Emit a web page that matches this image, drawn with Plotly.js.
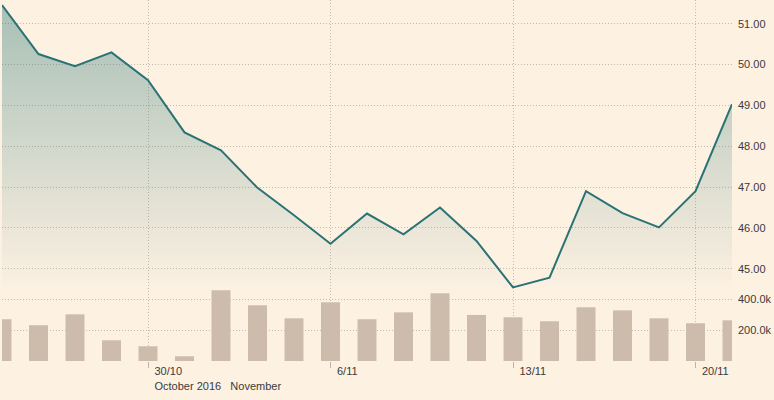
<!DOCTYPE html>
<html>
<head>
<meta charset="utf-8">
<script src="https://cdn.plot.ly/plotly-3.0.1.min.js"></script>
<style>html,body{margin:0;padding:0;background:#fdf1e2;}#chart{width:774px;height:400px;}</style>
</head>
<body>
<div id="chart"></div>
<script>
const dates = ['2016-10-24','2016-10-25','2016-10-26','2016-10-27','2016-10-30','2016-10-31','2016-11-01','2016-11-02','2016-11-03','2016-11-06','2016-11-07','2016-11-08','2016-11-09','2016-11-10','2016-11-13','2016-11-14','2016-11-15','2016-11-16','2016-11-17','2016-11-20','2016-11-21'];
const prices = [51.46,50.26,49.96,50.30,49.62,48.34,47.90,46.98,46.31,45.61,46.35,45.84,46.50,45.68,44.54,44.78,46.90,46.36,46.01,46.90,49.03];
const volumes = [272000,233000,304000,135000,96000,31000,461000,363000,278000,382000,272000,317000,441000,300000,285000,259000,350000,330000,278000,246000,265000];
const xTickVals = ['2016-10-30','2016-11-06','2016-11-13','2016-11-20'];
const xTickText = ['30/10<br>October 2016\u00a0\u00a0\u00a0November','6/11','13/11','20/11'];
const priceTicks = [45,46,47,48,49,50,51];
const volTickVals = [200000,400000];
const volTickText = ['200.0k','400.0k'];

const gridCol = '#c4bbb0';
const font = {family:'Liberation Sans, Arial, sans-serif', size:11, color:'#3a3a3a'};

const traces = [
  {
    type:'bar', x:dates, y:volumes, xaxis:'x', yaxis:'y2',
    marker:{color:'#cdbcab', line:{width:0}}, hoverinfo:'skip'
  },
  {
    type:'scatter', mode:'lines', x:dates, y:prices, xaxis:'x', yaxis:'y',
    line:{color:'#2a7374', width:2},
    fill:'tozeroy',
    fillgradient:{type:'vertical', start:44.42, stop:51.58,
      colorscale:[[0,'rgba(38,115,115,0.0)'],[1,'rgba(38,115,115,0.40)']]}
  }
];

const layout = {
  width:774, height:400,
  margin:{l:2, r:42, t:0, b:39, pad:0},
  paper_bgcolor:'#fdf1e2', plot_bgcolor:'rgba(0,0,0,0)',
  font:font, showlegend:false, bargap:0.48,
  xaxis:{
    type:'category', range:[0,20], anchor:'y2',
    tickmode:'array', tickvals:xTickVals, ticktext:xTickText,
    ticks:'outside', ticklen:6, tickcolor:'#bdb5ab', tickwidth:1,
    ticklabelposition:'outside right', ticklabelshift:6,
    showgrid:true, gridcolor:gridCol, griddash:'1px,2px', gridwidth:1,
    showline:false, zeroline:false, tickfont:font
  },
  yaxis:{
    domain:[0.19,1], range:[44.418,51.584], side:'right', anchor:'x',
    tickmode:'array', tickvals:priceTicks, tickformat:'.2f',
    showgrid:true, gridcolor:gridCol, griddash:'1px,2px', gridwidth:1,
    zeroline:false, showline:false, ticks:'', ticklabelstandoff:5, tickfont:font
  },
  yaxis2:{
    domain:[0,0.2105], range:[0,495000], side:'right', anchor:'x',
    tickmode:'array', tickvals:volTickVals, ticktext:volTickText,
    showgrid:true, gridcolor:gridCol, griddash:'1px,2px', gridwidth:1,
    zeroline:false, showline:false, ticks:'', ticklabelstandoff:5, tickfont:font
  }
};

Plotly.newPlot('chart', traces, layout, {staticPlot:true, displayModeBar:false});
</script>
</body>
</html>
